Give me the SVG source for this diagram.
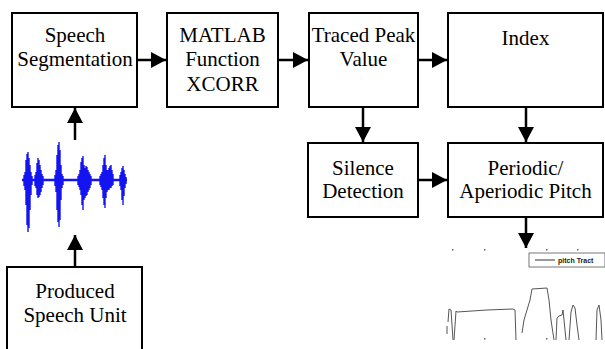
<svg xmlns="http://www.w3.org/2000/svg" width="605" height="349" viewBox="0 0 605 349">
<defs>
<style>
.box{fill:#fff;stroke:#000;stroke-width:2}
.lbl{font-family:"Liberation Serif","Times New Roman",serif;font-size:21px;fill:#000;text-anchor:middle}
.con{stroke:#000;stroke-width:2.5;fill:none;marker-end:url(#ah)}
.wave{stroke:#1414f0;stroke-width:1.4;fill:none}
.plot{stroke:#555;stroke-width:1;fill:none}
.dot{fill:#666}
</style>
<marker id="ah" markerUnits="userSpaceOnUse" markerWidth="16" markerHeight="16" viewBox="0 0 16 16" refX="15" refY="8" orient="auto">
<path d="M0,0 L15,8 L0,16 Z" fill="#000"/>
</marker>
</defs>
<rect width="605" height="349" fill="#fff"/>

<g id="connectors">
<line class="con" x1="137" y1="60" x2="166" y2="60"/>
<line class="con" x1="278" y1="60" x2="308" y2="60"/>
<line class="con" x1="418" y1="60" x2="447" y2="60"/>
<line class="con" x1="363" y1="107" x2="363" y2="142"/>
<line class="con" x1="526" y1="107" x2="526" y2="142"/>
<line class="con" x1="418" y1="180" x2="447" y2="180"/>
<line class="con" x1="526" y1="217" x2="526" y2="248"/>
<line class="con" x1="75" y1="140" x2="75" y2="108"/>
<line class="con" x1="75" y1="267" x2="75" y2="235"/>
</g>

<g id="speech-segmentation">
<rect class="box" x="12" y="13" width="125" height="94"/>
<text class="lbl" x="75" y="42">Speech</text>
<text class="lbl" x="75" y="66">Segmentation</text>
</g>

<g id="matlab-xcorr">
<rect class="box" x="167" y="13" width="111" height="94"/>
<text class="lbl" x="222.5" y="42">MATLAB</text>
<text class="lbl" x="222.5" y="66">Function</text>
<text class="lbl" x="222.5" y="91">XCORR</text>
</g>

<g id="traced-peak-value">
<rect class="box" x="309" y="13" width="109" height="94"/>
<text class="lbl" x="363.5" y="42">Traced Peak</text>
<text class="lbl" x="363.5" y="66">Value</text>
</g>

<g id="index">
<rect class="box" x="448" y="13" width="155" height="94"/>
<text class="lbl" x="525.5" y="45">Index</text>
</g>

<g id="silence-detection">
<rect class="box" x="308" y="143" width="110" height="74"/>
<text class="lbl" x="363" y="175">Silence</text>
<text class="lbl" x="363" y="198">Detection</text>
</g>

<g id="periodic-pitch">
<rect class="box" x="448" y="143" width="155" height="74"/>
<text class="lbl" x="525.5" y="175">Periodic/</text>
<text class="lbl" x="525.5" y="198">Aperiodic Pitch</text>
</g>

<g id="produced-speech-unit">
<rect class="box" x="7" y="267" width="135" height="95"/>
<text class="lbl" x="75" y="298">Produced</text>
<text class="lbl" x="75" y="322">Speech Unit</text>
</g>

<g id="waveform">
<line x1="22" y1="180" x2="127" y2="180" stroke="#1414f0" stroke-width="2.5"/>
<path class="wave" d="M24 175V186M25 172V190M26 160V205M27 154V225M28 152V232M29 158V228M30 165V210M31 172V195M32 176V185
M35 175V186M36 172V188M37 163V195M38 158V198M39 160V197M40 165V195M41 170V192M42 174V188M43 176V185
M55 175V186M56 170V192M57 155V210M58 145V222M59 142V227M60 150V220M61 165V200M62 174V188M63 176V185
M78 176V185M79 174V187M80 170V190M81 162V195M82 158V205M83 156V210M84 165V200M85 168V198M86 166V196M87 167V195M88 170V192M89 172V190M90 174V188M91 176V185
M100 176V185M101 174V187M102 172V190M103 165V198M104 158V205M105 155V208M106 165V198M107 170V192M108 170V190M109 168V190M110 166V188M111 165V188M112 170V186M113 174V185
M120 175V186M121 172V190M122 168V200M123 166V205M124 170V196M125 174V188M126 177V184"/>
</g>

<g id="pitch-plot">
<rect class="dot" x="452" y="249" width="1.5" height="1.5"/>
<rect class="dot" x="484" y="249" width="1.5" height="1.5"/>
<rect class="dot" x="546" y="249" width="1.5" height="1.5"/>
<rect class="dot" x="577" y="249" width="1.5" height="1.5"/>
<rect class="dot" x="484" y="338" width="1.5" height="1.5"/>
<rect class="dot" x="546" y="338" width="1.5" height="1.5"/>
<rect x="529" y="253" width="76" height="14" fill="#fff" stroke="#777" stroke-width="1"/>
<line x1="535" y1="260" x2="555" y2="260" stroke="#333" stroke-width="1"/>
<text x="558" y="263" font-family="Liberation Sans, Arial, sans-serif" font-size="7" font-weight="bold" fill="#222">pitch Tract</text>
<line class="plot" x1="447" y1="326" x2="447" y2="334"/>
<polyline class="plot" points="448,322 449,309 451,310 452,325 453,340"/>
<polyline class="plot" points="454,340 456,311 457,312 487,310 513,309 515,310 516,340"/>
<polyline class="plot" points="522,333 524,320 527,310 530,300 532,289 547,288 549,300 551,320 554,340"/>
<polyline class="plot" points="556,340 557,318 559,316 562,315 563,310 565,330 566,340"/>
<polyline class="plot" points="569,340 571,312 573,305 575,308 577,325 579,340"/>
<polyline class="plot" points="596,340 597,310 599,305 601,320 602,340"/>
</g>
</svg>
